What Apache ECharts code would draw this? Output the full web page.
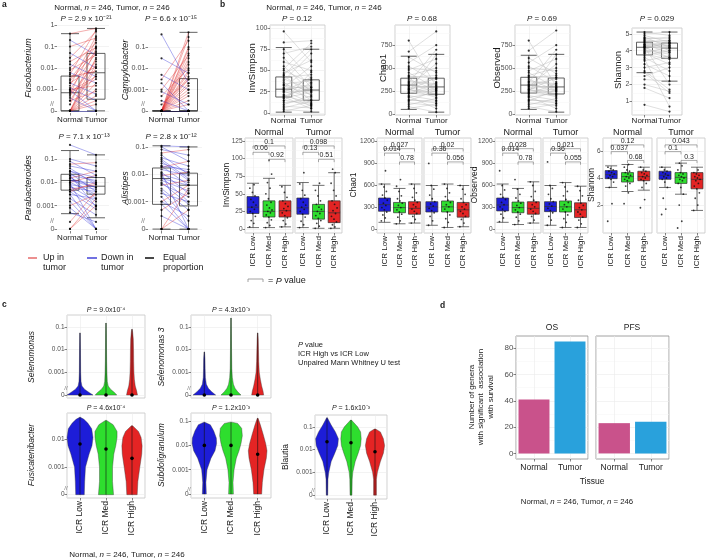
<!DOCTYPE html>
<html><head><meta charset="utf-8">
<script src="https://cdn.jsdelivr.net/npm/echarts@6/dist/echarts.min.js"></script>
<style>html,body{margin:0;padding:0;background:#fff}#c{width:707px;height:560px}</style>
</head><body><div id="c"></div>
<script>
// ================= DATA =================
// ---- panel a (paired relative abundance, 0 shown on broken log axis) ----
const pairedGroups = ['Normal', 'Tumor'];
const aTaxa = ['Fusobacterium', 'Campylobacter', 'Parabacteroides', 'Alistipes'];
const aPValues = ['2.9 x 10⁻²¹', '6.6 x 10⁻¹⁵', '7.1 x 10⁻¹³', '2.8 x 10⁻¹²'];
const fusobacteriumNormal = [0,0,0,0,0,0,0,0.0001,0.0002,0.0003,0.0005,0.0006,0.0008,0.001,0.001,0.0012,0.0015,0.002,0.002,0.003,0.004,0.005,0.006,0.008,0.01,0.015,0.02,0.03,0.05,0.1,0.2,0.4,0,0,0.0001,0.0004,0.0007,0.0003,0.0009,0.0025];
const fusobacteriumTumor  = [0.002,0.0005,0.01,0.03,0,0.0002,0.001,0.005,0.08,0.0008,0.02,0.2,0.004,0.0015,0.05,0.0003,0.3,0.012,0.0006,0.1,0.007,0.6,0.002,0.04,0.15,0.004,0.09,0.5,0.01,0.25,0.04,0.7,0.0003,0.015,0,0,0.003,0.025,0.0001,0.06];
const fusobacteriumBox = [[0,0,0.0007,0.0042,0.4],[0,0.00035,0.006,0.048,0.7]];
const campylobacterNormal = [0,0,0,0,0,0,0,0,0,0,0,0,0,0,0,0,0,0,0,0.0001,0.0002,0.0003,0.0005,0.0008,0.001,0.002,0.003,0.005,0.03,0.4,0,0,0,0,0,0.0001];
const campylobacterTumor  = [0,0.0002,0.0005,0.001,0.002,0.004,0.008,0.02,0.05,0.1,0.3,0.5,0.0001,0,0,0.0003,0.003,0.015,0,0,0.003,0,0.01,0.0002,0.04,0,0.2,0.001,0.006,0.002,0.0015,0.006,0.03,0,0.0007,0.08];
const campylobacterBox = [[0,0,0,0,0],[0,0,0,0.0033,0.5]];
const parabacteroidesNormal = [0.4,0.1,0.08,0.05,0.04,0.03,0.025,0.02,0.018,0.015,0.012,0.01,0.01,0.008,0.007,0.006,0.005,0.005,0.004,0.003,0.002,0.0015,0.001,0.0008,0.0005,0,0,0.06,0.015,0.02,0.009,0.012,0.03,0.003,0.004,0.0002];
const parabacteroidesTumor  = [0.15,0.05,0.02,0.03,0.008,0.01,0.004,0.012,0.002,0.006,0.009,0.003,0.02,0.005,0.0015,0.004,0.001,0.008,0.0007,0.002,0.0004,0,0.003,0,0.0002,0.001,0.002,0.07,0.03,0.0009,0,0.006,0.016,0.0001,0.01,0.004];
const parabacteroidesBox = [[0.00045,0.0046,0.012,0.022,0.23],[0.0003,0.0031,0.0068,0.016,0.15]];
const alistipesNormal = [0.11,0.1,0.08,0.05,0.04,0.03,0.025,0.02,0.015,0.012,0.01,0.009,0.008,0.007,0.006,0.005,0.004,0.003,0.002,0.0015,0.001,0.0008,0.0005,0.0003,0,0,0,0.06,0.018,0.011,0.0025,0.035,0.0045,0.001,0.02];
const alistipesTumor  = [0.1,0.03,0.05,0.01,0.02,0.006,0.012,0.004,0.009,0.002,0.005,0.012,0.001,0.004,0.0025,0.0008,0.006,0.0005,0.001,0,0.0003,0,0.002,0,0,0.0005,0.003,0.08,0.03,0,0.0002,0.007,0.0015,0.004,0.015];
const alistipesBox = [[0,0.0008,0.007,0.017,0.11],[0,0.0007,0.004,0.011,0.1]];
const logTickValues = [0, 0.001, 0.01, 0.1, 1];

// ---- panel b top (paired alpha diversity) ----
const diversityMetrics = ['InvSimpson', 'Chao1', 'Observed', 'Shannon'];
const bPValues = ['0.12', '0.68', '0.69', '0.029'];
const invSimpsonNormal = [96,83,75,70,65,60,55,50,47,44,42,40,38,36,34,32,30,28,27,26,25,24,22,20,19,18,17,15,14,12,10,8,6,4,2,45,33,52,29,21];
const invSimpsonTumor  = [60,85,40,78,30,50,25,35,62,20,45,28,70,15,38,22,55,18,33,12,42,26,8,30,5,24,36,10,48,16,20,6,14,2,9,75,27,82,31,11];
const invSimpsonPairBox = [[1,18.8,28,42.4,77],[1,15,27,39,75]];
const chao1Normal = [800,680,620,560,520,480,450,420,400,380,360,340,330,320,310,300,290,280,270,260,250,240,230,220,200,180,160,140,120,100,80,60,350,310,270,410,230,190,150,500];
const chao1Tumor  = [300,900,450,750,350,600,280,500,420,260,330,700,240,380,290,550,220,310,180,400,270,650,200,340,150,230,120,260,90,170,20,110,320,280,210,390,250,60,140,470];
const chao1PairBox = [[50,225,315,390,630],[20,215,295,390,650]];
const observedNormal = [800,690,610,560,520,470,450,420,395,380,360,345,330,320,305,300,290,280,265,260,250,240,230,215,200,180,160,140,120,100,80,60,350,315,270,410,225,190,150,500];
const observedTumor  = [300,910,440,750,350,600,285,500,420,255,330,700,245,380,290,545,220,310,185,400,270,650,200,335,150,230,120,265,90,170,25,110,320,280,210,395,250,60,140,470];
const observedPairBox = [[50,228,315,400,640],[20,218,295,392,650]];
const shannonNormal = [5.1,5.0,4.9,4.8,4.7,4.6,4.5,4.4,4.35,4.3,4.25,4.2,4.15,4.1,4.0,3.9,3.8,3.7,3.6,3.4,3.2,3.0,2.8,2.5,2.3,2.0,1.8,0.8,4.45,4.05,3.95,4.55,4.25,3.85,4.65,4.75,3.5,4.35,4.2,2.7];
const shannonTumor  = [4.9,5.1,4.5,4.2,4.8,4.0,4.6,4.3,3.9,4.4,4.1,3.6,4.3,4.5,3.8,4.2,3.5,4.0,2.8,3.7,2.5,3.3,1.7,3.0,2.2,1.6,1.2,0.4,4.45,3.9,3.6,4.6,4.15,3.2,4.4,4.7,0.7,4.25,2.0,1.5];
const shannonPairBox = [[2.7,3.75,4.2,4.5,5.1],[2.2,3.55,4.15,4.45,5.1]];

// ---- panel b bottom (by ICR group, faceted by tissue) ----
const icrGroups = ['ICR Low', 'ICR Med', 'ICR High'];
const tissueFacets = ['Normal', 'Tumor'];
const invSimpsonNormalBox = [[2,22,31,46,65],[2,17,25,40,72],[3,17,26,40,62]];
const invSimpsonTumorBox  = [[2,21,30,44,66],[1,14,25,35,62],[1,9,23,40,80]];
const invSimpsonNormalPts = [[3,8,12,18,22,25,28,31,34,38,42,47,52,58,63],[2,5,9,13,17,20,23,25,27,30,34,38,43,50,58,66,78,98],[3,7,12,16,19,23,26,29,32,36,40,45,52,60]];
const invSimpsonTumorPts  = [[2,6,11,17,21,25,28,31,34,38,43,48,55,64,80],[1,4,8,12,15,19,22,25,28,31,35,40,47,55,65],[1,3,6,10,14,18,22,26,30,35,40,47,55,65,80,85]];
const invSimpsonNormalP = ['0.1','0.06','0.92'];
const invSimpsonTumorP  = ['0.098','0.13','0.51'];
const invSimpsonBracketY = [118,109,99];
const chao1NormalBox = [[100,250,340,430,620],[80,230,300,370,560],[90,210,290,380,620]];
const chao1TumorBox  = [[60,240,310,380,600],[30,240,310,390,620],[40,170,270,370,600]];
const chao1NormalPts = [[120,160,200,240,270,300,330,360,400,430,470,520,580,620,800],[80,120,170,210,240,270,300,330,360,390,420,460,520,590,680],[90,140,180,220,250,280,310,340,370,400,440,500,560,620]];
const chao1TumorPts  = [[60,120,180,230,260,290,320,350,380,420,470,550,600,900],[30,100,150,200,240,280,310,340,370,400,450,500,560,620],[40,90,140,180,220,250,280,310,340,370,420,480,550,600]];
const chao1NormalP = ['0.027','0.014','0.78'];
const chao1TumorP  = ['0.02','0.36','0.056'];
const chao1BracketY = [1100,1040,920];
const observedNormalBox = [[100,255,335,430,620],[70,230,300,375,560],[90,210,290,380,650]];
const observedTumorBox  = [[60,245,315,380,600],[30,240,310,390,640],[30,165,270,365,590]];
const observedNormalPts = [[110,160,210,250,280,310,340,370,410,440,480,540,600,800],[70,120,170,210,240,270,300,330,360,390,430,480,550,680],[90,130,180,220,250,280,310,340,370,400,450,520,600,650]];
const observedTumorPts  = [[60,130,180,230,260,290,320,350,380,420,480,560,600,920],[30,100,150,200,240,280,310,340,370,410,460,520,580,640],[30,80,130,170,210,240,270,300,330,360,400,460,530,590]];
const observedNormalP = ['0.028','0.014','0.78'];
const observedTumorP  = ['0.021','0.36','0.055'];
const observedBracketY = [1100,1040,920];
const shannonNormalBox = [[3.3,3.95,4.25,4.55,4.9],[3.0,3.7,4.1,4.4,5.0],[3.1,3.8,4.1,4.5,4.8]];
const shannonTumorBox  = [[3.3,3.9,4.2,4.5,4.8],[2.8,3.6,4.05,4.4,5.1],[1.6,3.2,3.9,4.4,4.8]];
const shannonNormalPts = [[0.8,2.1,3.3,3.7,3.9,4.0,4.1,4.2,4.3,4.4,4.5,4.6,4.7,4.8],[2.1,2.9,3.4,3.6,3.8,3.9,4.0,4.1,4.2,4.3,4.4,4.5,4.6,4.8,5.0],[1.8,2.4,3.3,3.6,3.8,3.9,4.0,4.1,4.2,4.3,4.4,4.5,4.6,4.8]];
const shannonTumorPts  = [[1.3,1.7,2.5,3.3,3.7,3.9,4.0,4.1,4.2,4.3,4.4,4.5,4.6,4.8],[0.3,0.8,2.0,2.8,3.3,3.6,3.8,3.9,4.0,4.1,4.2,4.3,4.4,4.6,4.9,5.1],[1.6,2.0,2.5,2.9,3.2,3.4,3.6,3.8,3.9,4.0,4.1,4.2,4.3,4.4,4.6]];
const shannonNormalP = ['0.12','0.037','0.68'];
const shannonTumorP  = ['0.043','0.1','0.3'];
const shannonBracketY = [6.45,5.95,5.3];

// ---- panel c (violins: [abundance, relative density width]) ----
const cTaxa = ['Selenomonas', 'Selenomonas 3', 'Fusicatenibacter', 'Subdoligranulum', 'Blautia'];
const cPValues = ['9.0x10⁻⁴', '4.3x10⁻³', '4.6x10⁻⁴', '1.2x10⁻³', '1.6x10⁻³'];
const selenomonasViolin = [
  [[0,1.0],[0.00013,0.7],[0.00018,0.35],[0.00025,0.15],[0.0004,0.08],[0.001,0.05],[0.01,0.035],[0.055,0.015]],
  [[0,0.83],[0.00013,0.65],[0.00018,0.35],[0.00025,0.17],[0.0004,0.1],[0.001,0.07],[0.003,0.05],[0.01,0.04],[0.05,0.03],[0.15,0.015]],
  [[0,0.42],[0.00015,0.36],[0.00025,0.25],[0.0005,0.18],[0.001,0.15],[0.003,0.13],[0.01,0.12],[0.03,0.1],[0.06,0.05],[0.08,0.015]]];
const selenomonasMedian = [0,0,0];
const selenomonas3Violin = [
  [[0,0.85],[0.00014,0.55],[0.0002,0.3],[0.0003,0.15],[0.0006,0.08],[0.0015,0.06],[0.004,0.05],[0.008,0.015]],
  [[0,0.75],[0.00014,0.5],[0.0002,0.3],[0.0003,0.18],[0.0006,0.1],[0.0015,0.06],[0.01,0.04],[0.05,0.03],[0.25,0.015]],
  [[0,0.45],[0.00015,0.4],[0.00025,0.3],[0.0005,0.2],[0.001,0.12],[0.003,0.08],[0.01,0.06],[0.03,0.04],[0.055,0.015]]];
const selenomonas3Median = [0,0,0];
const fusicatenibacterViolin = [
  [[0,0.33],[0.0003,0.36],[0.001,0.42],[0.003,0.7],[0.006,0.92],[0.012,1.0],[0.025,0.9],[0.04,0.6],[0.055,0.3],[0.065,0.03]],
  [[0,0.58],[0.0003,0.5],[0.001,0.5],[0.003,0.6],[0.006,0.75],[0.012,0.85],[0.02,0.85],[0.035,0.55],[0.05,0.05]],
  [[0,0.4],[0.0003,0.45],[0.001,0.6],[0.003,0.75],[0.006,0.78],[0.012,0.7],[0.02,0.5],[0.032,0.05]]];
const fusicatenibacterMedian = [0.007,0.0046,0.0021];
const subdoligranulumViolin = [
  [[0,0.15],[0.0003,0.12],[0.001,0.2],[0.003,0.5],[0.006,0.8],[0.012,0.92],[0.02,0.9],[0.04,0.7],[0.07,0.45],[0.09,0.03]],
  [[0,0.18],[0.0003,0.15],[0.001,0.23],[0.003,0.4],[0.006,0.6],[0.012,0.75],[0.025,0.85],[0.05,0.8],[0.08,0.5],[0.09,0.05]],
  [[0,0.3],[0.0003,0.35],[0.001,0.47],[0.003,0.65],[0.006,0.7],[0.012,0.6],[0.03,0.4],[0.07,0.2],[0.13,0.03]]];
const subdoligranulumMedian = [0.01,0.01,0.0043];
const blautiaViolin = [
  [[0,0.06],[0.0005,0.08],[0.001,0.15],[0.003,0.35],[0.007,0.65],[0.015,0.9],[0.03,0.95],[0.06,0.7],[0.12,0.35],[0.25,0.03]],
  [[0,0.08],[0.0005,0.1],[0.001,0.15],[0.003,0.35],[0.007,0.6],[0.015,0.8],[0.03,0.85],[0.06,0.8],[0.1,0.55],[0.2,0.03]],
  [[0,0.12],[0.0005,0.12],[0.001,0.2],[0.003,0.45],[0.007,0.7],[0.015,0.8],[0.03,0.7],[0.06,0.45],[0.08,0.05]]];
const blautiaMedian = [0.022,0.02,0.008];

// ---- panel d ----
const survivalEndpoints = ['OS', 'PFS'];
const tissues = ['Normal', 'Tumor'];
const osGenera = [41, 85];
const pfsGenera = [23, 24];

// ================= STYLE / HELPERS =================
const FONT = "'Liberation Sans', Arial, Helvetica, sans-serif";
const TXT = '#1a1a1a', TICK = '#4d4d4d', GMAJ = '#ebebeb', GMIN = '#f5f5f5';
const ICR_FILL = ['#1d1dd8', '#2ede2e', '#e42424'];
const TISSUE_FILL = ['#c9528b', '#29a1dc'];
const FLOOR = 1e-4;
const z0 = v => (v <= 0 ? FLOOR : v);
const grid = [], xAxis = [], yAxis = [], series = [], elements = [];

function logFmt(v) {
  const e = Math.log10(v), r = Math.round(e);
  if (Math.abs(e - r) > 0.02) return '';
  if (r <= -4) return '0';
  return r >= 0 ? String(Math.pow(10, r)) : Math.pow(10, r).toFixed(-r);
}
function panel(c) {
  const gi = grid.length;
  grid.push({left: c.l, top: c.t, width: c.w, height: c.h, show: !!c.border,
    borderColor: c.border || '#fff', borderWidth: c.border ? 0.8 : 0, backgroundColor: 'rgba(0,0,0,0)'});
  const xi = xAxis.length;
  xAxis.push({type: 'category', gridIndex: gi, data: c.cats, boundaryGap: true, position: 'bottom',
    axisLine: {show: false, onZero: false},
    axisTick: {show: c.xlab !== false, length: 2.5, alignWithLabel: true, lineStyle: {color: '#333', width: 0.6}},
    axisLabel: {show: c.xlab !== false, interval: 0, fontSize: c.xfs || 8, color: TXT, fontFamily: FONT, margin: c.xm != null ? c.xm : 3, rotate: c.rot || 0},
    splitLine: {show: false}});
  let vxi = null;
  if (c.vgrid) {
    vxi = xAxis.length;
    xAxis.push({type: 'value', gridIndex: gi, position: 'top', min: -0.5, max: c.cats.length - 0.5,
      minInterval: 1, maxInterval: 1, axisLine: {show: false, onZero: false}, axisTick: {show: false}, axisLabel: {show: false},
      splitLine: {show: true, lineStyle: {color: GMAJ, width: 0.6}}});
  }
  const yi = yAxis.length;
  const showY = c.ylab !== false;
  if (c.log) {
    const vals = logTickValues.map(z0).filter(v => v >= c.lo * 0.999 && v <= c.hi * 1.001);
    yAxis.push({type: 'log', logBase: 10, gridIndex: gi, min: c.lo, max: c.hi,
      axisLine: {show: false, onZero: false},
      axisTick: {show: showY, length: 2.5, customValues: vals, lineStyle: {color: '#333', width: 0.6}},
      axisLabel: {show: showY, fontSize: c.yfs || 7, color: TICK, fontFamily: FONT, margin: 2.5, formatter: logFmt,
        showMinLabel: true, showMaxLabel: true, hideOverlap: false},
      splitLine: {show: true, lineStyle: {color: GMAJ, width: 0.6}}});
  } else {
    const t = c.ticks;
    yAxis.push({type: 'value', gridIndex: gi, min: c.lo, max: c.hi, minInterval: c.step, maxInterval: c.step,
      axisLine: {show: false, onZero: false},
      axisTick: {show: showY, length: 2.5, customValues: t, lineStyle: {color: '#333', width: 0.6}},
      axisLabel: {show: showY, fontSize: c.yfs || 7, color: TICK, fontFamily: FONT, margin: 2.5,
        showMinLabel: true, showMaxLabel: true, hideOverlap: false,
        formatter: v => (t.some(q => Math.abs(q - v) < 1e-9) ? String(v) : '')},
      splitLine: {show: true, lineStyle: {color: GMAJ, width: 0.6}},
      minorTick: {show: false, splitNumber: 2},
      minorSplitLine: {show: true, lineStyle: {color: GMIN, width: 0.5}}});
  }
  return {gi, xi, vxi, yi};
}
function txt(x, y, text, o) {
  o = o || {};
  const fs = o.fs || 8, col = o.c || TXT;
  elements.push({type: 'text', x: x, y: y, rotation: o.rot ? Math.PI / 2 : 0, silent: true, z: 10,
    style: {text: text, fontSize: fs, fontFamily: FONT, fill: col, align: o.a || 'center', verticalAlign: 'middle',
      fontStyle: o.it ? 'italic' : 'normal', fontWeight: o.b ? 'bold' : 'normal', lineHeight: o.lh || Math.round(fs * 1.15),
      rich: {i: {fontStyle: 'italic', fontSize: fs, fontFamily: FONT, fill: col}}}});
}
function seg(x1, y1, x2, y2, col, w) {
  elements.push({type: 'line', silent: true, z: 10, shape: {x1, y1, x2, y2}, style: {stroke: col, lineWidth: w || 1}});
}

function paired(p, normal, tumor, box, isLog, lineCol, boxW) {
  const cv = isLog ? z0 : (v => v);
  const n = Math.min(normal.length, tumor.length);
  const lines = [];
  for (let i = 0; i < n; i++) {
    const a = normal[i], b = tumor[i];
    const col = lineCol ? lineCol : (b > a ? '#e02828' : (b < a ? '#2828d8' : '#111'));
    lines.push({coords: [[0, cv(a)], [1, cv(b)]], lineStyle: {color: col}});
  }
  series.push({type: 'boxplot', xAxisIndex: p.xi, yAxisIndex: p.yi, silent: true, z: 2,
    data: box.map(b => b.map(cv)), boxWidth: [boxW, boxW],
    itemStyle: {color: 'rgba(255,255,255,0)', borderColor: '#3a3a3a', borderWidth: 0.8}});
  series.push({type: 'lines', coordinateSystem: 'cartesian2d', xAxisIndex: p.xi, yAxisIndex: p.yi, silent: true, z: 3,
    data: lines, lineStyle: {width: 0.75, opacity: lineCol ? 0.6 : 0.5}});
  const pts = normal.map(v => [0, cv(v)]).concat(tumor.map(v => [1, cv(v)]));
  series.push({type: 'scatter', xAxisIndex: p.xi, yAxisIndex: p.yi, silent: true, z: 4,
    data: pts, symbolSize: 2.2, itemStyle: {color: '#000'}});
}
function facet(p, box, pts, pv, levels, drop) {
  series.push({type: 'boxplot', xAxisIndex: p.xi, yAxisIndex: p.yi, silent: true, z: 2, boxWidth: [12, 12],
    data: box.map((b, k) => ({value: b, itemStyle: {color: ICR_FILL[k]}})),
    itemStyle: {borderColor: '#333', borderWidth: 0.7}});
  const jd = [];
  pts.forEach((arr, k) => arr.forEach((v, j) => jd.push([k + (((j * 0.6180339887) % 1) - 0.5) * 0.42, v])));
  series.push({type: 'scatter', xAxisIndex: p.vxi, yAxisIndex: p.yi, silent: true, z: 4,
    data: jd, symbolSize: 1.8, itemStyle: {color: '#111'}});
  const pairs = [[0, 2], [0, 1], [1, 2]];
  series.push({type: 'custom', coordinateSystem: 'cartesian2d', xAxisIndex: p.xi, yAxisIndex: p.yi, silent: true, z: 6, clip: false,
    data: levels.map((lv, k) => [pairs[k][0], lv]),
    renderItem: (params, api) => {
      const k = params.dataIndex, pr = pairs[k], lv = levels[k];
      const a = api.coord([pr[0], lv]), b = api.coord([pr[1], lv]);
      const a0 = api.coord([pr[0], lv - drop]), b0 = api.coord([pr[1], lv - drop]);
      return {type: 'group', children: [
        {type: 'polyline', shape: {points: [a0, a, b, b0]}, style: {stroke: '#707070', lineWidth: 0.6, fill: 'none'}},
        {type: 'text', x: (a[0] + b[0]) / 2, y: a[1] - 0.3,
          style: {text: pv[k], fontSize: 7, fontFamily: FONT, fill: '#262626', align: 'center', verticalAlign: 'bottom'}}
      ]};
    }});
}
function violins(p, profiles, medians) {
  series.push({type: 'custom', coordinateSystem: 'cartesian2d', xAxisIndex: p.xi, yAxisIndex: p.yi, silent: true, z: 3,
    data: profiles.map((_, k) => [k, z0(medians[k])]),
    renderItem: (params, api) => {
      const k = params.dataIndex, prof = profiles[k];
      const half = api.size([1, 0], [k, z0(medians[k])])[0] * 0.5;
      const R = [], L = [];
      prof.forEach(([v, w]) => {
        const pt = api.coord([k, z0(v)]);
        R.push([pt[0] + w * half, pt[1]]);
        L.push([pt[0] - w * half, pt[1]]);
      });
      const lo = api.coord([k, z0(prof[0][0])]), hi = api.coord([k, z0(prof[prof.length - 1][0])]);
      const md = api.coord([k, z0(medians[k])]);
      return {type: 'group', children: [
        {type: 'polygon', shape: {points: R.concat(L.reverse())}, style: {fill: ICR_FILL[k], stroke: '#3a3a3a', lineWidth: 0.4}},
        {type: 'line', shape: {x1: lo[0], y1: lo[1], x2: hi[0], y2: hi[1]}, style: {stroke: '#111', lineWidth: 0.6}},
        {type: 'circle', shape: {cx: md[0], cy: md[1], r: 1.8}, style: {fill: '#000'}}
      ]};
    }});
}

// ================= PANEL A =================
const L10 = e => Math.pow(10, e);
const A1 = panel({l: 57, t: 23, w: 52, h: 90, cats: pairedGroups, log: true, lo: L10(-4.1), hi: L10(0.1), yfs: 7.2});
const A2 = panel({l: 148, t: 27, w: 54, h: 86, cats: pairedGroups, log: true, lo: L10(-4.1), hi: L10(-0.05), yfs: 7.2});
const A3 = panel({l: 57, t: 145, w: 52, h: 86, cats: pairedGroups, log: true, lo: L10(-4.09), hi: L10(-0.4), yfs: 7.2});
const A4 = panel({l: 148, t: 145, w: 54, h: 86, cats: pairedGroups, log: true, lo: L10(-4.07), hi: L10(-0.93), yfs: 7.2});
paired(A1, fusobacteriumNormal, fusobacteriumTumor, fusobacteriumBox, true, null, 18);
paired(A2, campylobacterNormal, campylobacterTumor, campylobacterBox, true, null, 18);
paired(A3, parabacteroidesNormal, parabacteroidesTumor, parabacteroidesBox, true, null, 18);
paired(A4, alistipesNormal, alistipesTumor, alistipesBox, true, null, 18);

// ================= PANEL B TOP =================
const B1 = panel({l: 270, t: 25, w: 55, h: 90, cats: pairedGroups, border: '#c4c4c4', vgrid: true, xm: 1.5, lo: -2.35, hi: 103.5, step: 25, ticks: [0,25,50,75,100]});
const B2 = panel({l: 395, t: 25, w: 55, h: 90, cats: pairedGroups, border: '#c4c4c4', vgrid: true, xm: 1.5, lo: -11, hi: 970, step: 250, ticks: [0,250,500,750]});
const B3 = panel({l: 515, t: 25, w: 55, h: 90, cats: pairedGroups, border: '#c4c4c4', vgrid: true, xm: 1.5, lo: -11, hi: 970, step: 250, ticks: [0,250,500,750]});
const B4 = panel({l: 632, t: 28, w: 50, h: 87, cats: pairedGroups, border: '#c4c4c4', vgrid: true, xm: 1.5, lo: 0.2, hi: 5.34, step: 1, ticks: [1,2,3,4,5]});
paired(B1, invSimpsonNormal, invSimpsonTumor, invSimpsonPairBox, false, '#b8b8b8', 16);
paired(B2, chao1Normal, chao1Tumor, chao1PairBox, false, '#b8b8b8', 16);
paired(B3, observedNormal, observedTumor, observedPairBox, false, '#b8b8b8', 16);
paired(B4, shannonNormal, shannonTumor, shannonPairBox, false, '#b8b8b8', 16);

// ================= PANEL B BOTTOM =================
const fb = (l, w, lo, hi, step, ticks, ylab) => panel({l, t: 138, w, h: 95, cats: icrGroups, border: '#c4c4c4', vgrid: true,
  rot: 90, xfs: 8, lo, hi, step, ticks, yfs: 6.5, ylab});
const F1 = fb(245, 48, -5.7, 129.3, 25, [0,25,50,75,100,125], true);
const F2 = fb(295, 47, -5.7, 129.3, 25, [0,25,50,75,100,125], false);
const F3 = fb(377, 45, -45, 1245, 300, [0,300,600,900,1200], true);
const F4 = fb(424, 47, -45, 1245, 300, [0,300,600,900,1200], false);
const F5 = fb(495, 46, -45, 1245, 300, [0,300,600,900,1200], true);
const F6 = fb(543, 45, -45, 1245, 300, [0,300,600,900,1200], false);
const F7 = fb(603, 49, -0.07, 6.96, 2, [2,4,6], true);
const F8 = fb(657, 48, -0.07, 6.96, 2, [2,4,6], false);
facet(F1, invSimpsonNormalBox, invSimpsonNormalPts, invSimpsonNormalP, invSimpsonBracketY, 4);
facet(F2, invSimpsonTumorBox, invSimpsonTumorPts, invSimpsonTumorP, invSimpsonBracketY, 4);
facet(F3, chao1NormalBox, chao1NormalPts, chao1NormalP, chao1BracketY, 38);
facet(F4, chao1TumorBox, chao1TumorPts, chao1TumorP, chao1BracketY, 38);
facet(F5, observedNormalBox, observedNormalPts, observedNormalP, observedBracketY, 38);
facet(F6, observedTumorBox, observedTumorPts, observedTumorP, observedBracketY, 38);
facet(F7, shannonNormalBox, shannonNormalPts, shannonNormalP, shannonBracketY, 0.2);
facet(F8, shannonTumorBox, shannonTumorPts, shannonTumorP, shannonBracketY, 0.2);

// ================= PANEL C =================
const C1 = panel({l: 67, t: 315, w: 78, h: 83, cats: icrGroups, border: '#c4c4c4', vgrid: true, xlab: false, log: true, lo: L10(-4.13), hi: L10(-0.47), yfs: 6.5});
const C2 = panel({l: 191, t: 315, w: 80, h: 83, cats: icrGroups, border: '#c4c4c4', vgrid: true, xlab: false, log: true, lo: L10(-4.13), hi: L10(-0.47), yfs: 6.5});
const C3 = panel({l: 67, t: 413, w: 78, h: 85, cats: icrGroups, border: '#c4c4c4', vgrid: true, rot: 90, xfs: 8.5, log: true, lo: L10(-4.12), hi: L10(-1.03), yfs: 6.5});
const C4 = panel({l: 191, t: 413, w: 80, h: 85, cats: icrGroups, border: '#c4c4c4', vgrid: true, rot: 90, xfs: 8.5, log: true, lo: L10(-4.16), hi: L10(-0.67), yfs: 6.5});
const C5 = panel({l: 315, t: 415, w: 72, h: 84, cats: icrGroups, border: '#c4c4c4', vgrid: true, rot: 90, xfs: 8.5, log: true, lo: L10(-4.17), hi: L10(-0.48), yfs: 6.5});
violins(C1, selenomonasViolin, selenomonasMedian);
violins(C2, selenomonas3Violin, selenomonas3Median);
violins(C3, fusicatenibacterViolin, fusicatenibacterMedian);
violins(C4, subdoligranulumViolin, subdoligranulumMedian);
violins(C5, blautiaViolin, blautiaMedian);

// ================= PANEL D =================
const D1 = panel({l: 516, t: 336, w: 72, h: 123, cats: tissues, border: '#8c8c8c', vgrid: true, xfs: 8.5, xm: 4, lo: -4.25, hi: 89.25, step: 20, ticks: [0,20,40,60,80], yfs: 8});
const D2 = panel({l: 596, t: 336, w: 73, h: 123, cats: tissues, border: '#8c8c8c', vgrid: true, xfs: 8.5, xm: 4, lo: -4.25, hi: 89.25, step: 20, ticks: [0,20,40,60,80], yfs: 8, ylab: false});
[[D1, osGenera], [D2, pfsGenera]].forEach(([p, vals]) => {
  series.push({type: 'bar', xAxisIndex: p.xi, yAxisIndex: p.yi, silent: true, z: 3, barCategoryGap: '14%',
    data: vals.map((v, k) => ({value: v, itemStyle: {color: TISSUE_FILL[k]}}))});
});

// ================= TEXT =================
const caption = 'Normal, {i|n} = 246, Tumor, {i|n} = 246';
// a
txt(2, 5, 'a', {b: true, fs: 8.5, a: 'left'});
txt(112, 8, caption, {fs: 8});
[[86, 19], [171, 19], [84, 137], [171, 137]].forEach(([x, y], k) => txt(x, y, '{i|P} = ' + aPValues[k], {fs: 8}));
[[28, 68], [125, 70], [28, 188], [125, 188]].forEach(([x, y], k) => txt(x, y, aTaxa[k], {fs: 9, it: true, rot: true}));
[[52, 104], [143, 104], [52, 221], [143, 221]].forEach(([x, y]) => txt(x, y, '//', {fs: 6.5, c: '#777'}));
seg(28, 258, 37, 258, '#e87474', 1.6); txt(43, 262.5, 'Up in\ntumor', {fs: 9, a: 'left', lh: 9.5});
seg(87, 258, 97, 258, '#4d4dda', 1.6); txt(101, 262.5, 'Down in\ntumor', {fs: 9, a: 'left', lh: 9.5});
seg(145, 258, 154, 258, '#1a1a1a', 1.6); txt(163, 262.5, 'Equal\nproportion', {fs: 9, a: 'left', lh: 9.5});
// b
txt(220, 5, 'b', {b: true, fs: 8.5, a: 'left'});
txt(324, 8, caption, {fs: 8});
[297, 422, 542, 657].forEach((x, k) => txt(x, 19, '{i|P} = ' + bPValues[k], {fs: 8}));
[[252, 68], [383, 68], [497, 68], [618, 70]].forEach(([x, y], k) => txt(x, y, diversityMetrics[k], {fs: 9.5, rot: true}));
[[227, 185], [354, 185], [475, 185], [592, 185]].forEach(([x, y], k) => txt(x, y, diversityMetrics[k], {fs: 8.5, rot: true}));
[269, 318.5, 399.5, 447.5, 518, 565.5, 627.5, 681].forEach((x, k) => txt(x, 133, tissueFacets[k % 2], {fs: 9}));
elements.push({type: 'polyline', silent: true, shape: {points: [[248, 282], [248, 279], [263, 279], [263, 282]]}, style: {stroke: '#8a8a8a', lineWidth: 0.8, fill: 'none'}});
txt(268, 281, '= {i|P} value', {fs: 9, a: 'left'});
// c
txt(2, 305, 'c', {b: true, fs: 8.5, a: 'left'});
[[106, 310], [231, 310], [106, 408], [231, 408], [351, 408]].forEach(([x, y], k) => txt(x, y, '{i|P} = ' + cPValues[k], {fs: 7}));
[[32, 357], [162, 357], [32, 455], [162, 455], [286, 457]].forEach(([x, y], k) => txt(x, y, cTaxa[k], {fs: 8.5, rot: true, it: k < 4}));
[[66, 388], [189, 388], [66, 488], [189, 489], [313, 490]].forEach(([x, y]) => txt(x, y, '//', {fs: 6, c: '#777'}));
txt(298, 345, '{i|P} value', {fs: 7.5, a: 'left'});
txt(298, 354, 'ICR High vs ICR Low', {fs: 7.5, a: 'left'});
txt(298, 362.5, 'Unpaired Mann Whitney U test', {fs: 7.5, a: 'left'});
txt(127, 555, caption, {fs: 8});
// d
txt(440, 306, 'd', {b: true, fs: 8.5, a: 'left'});
txt(552, 328, survivalEndpoints[0], {fs: 8.5});
txt(632, 328, survivalEndpoints[1], {fs: 8.5});
txt(481, 397, 'Number of genera\nwith significant  association\nwith survival', {fs: 8, rot: true, lh: 9.5});
txt(592, 482, 'Tissue', {fs: 8.5});
txt(577, 502, caption, {fs: 7.8});

const chart = echarts.init(document.getElementById('c'), null, {renderer: 'canvas'});
chart.setOption({animation: false, grid, xAxis, yAxis, series, graphic: {elements}});
</script>
</body></html>
